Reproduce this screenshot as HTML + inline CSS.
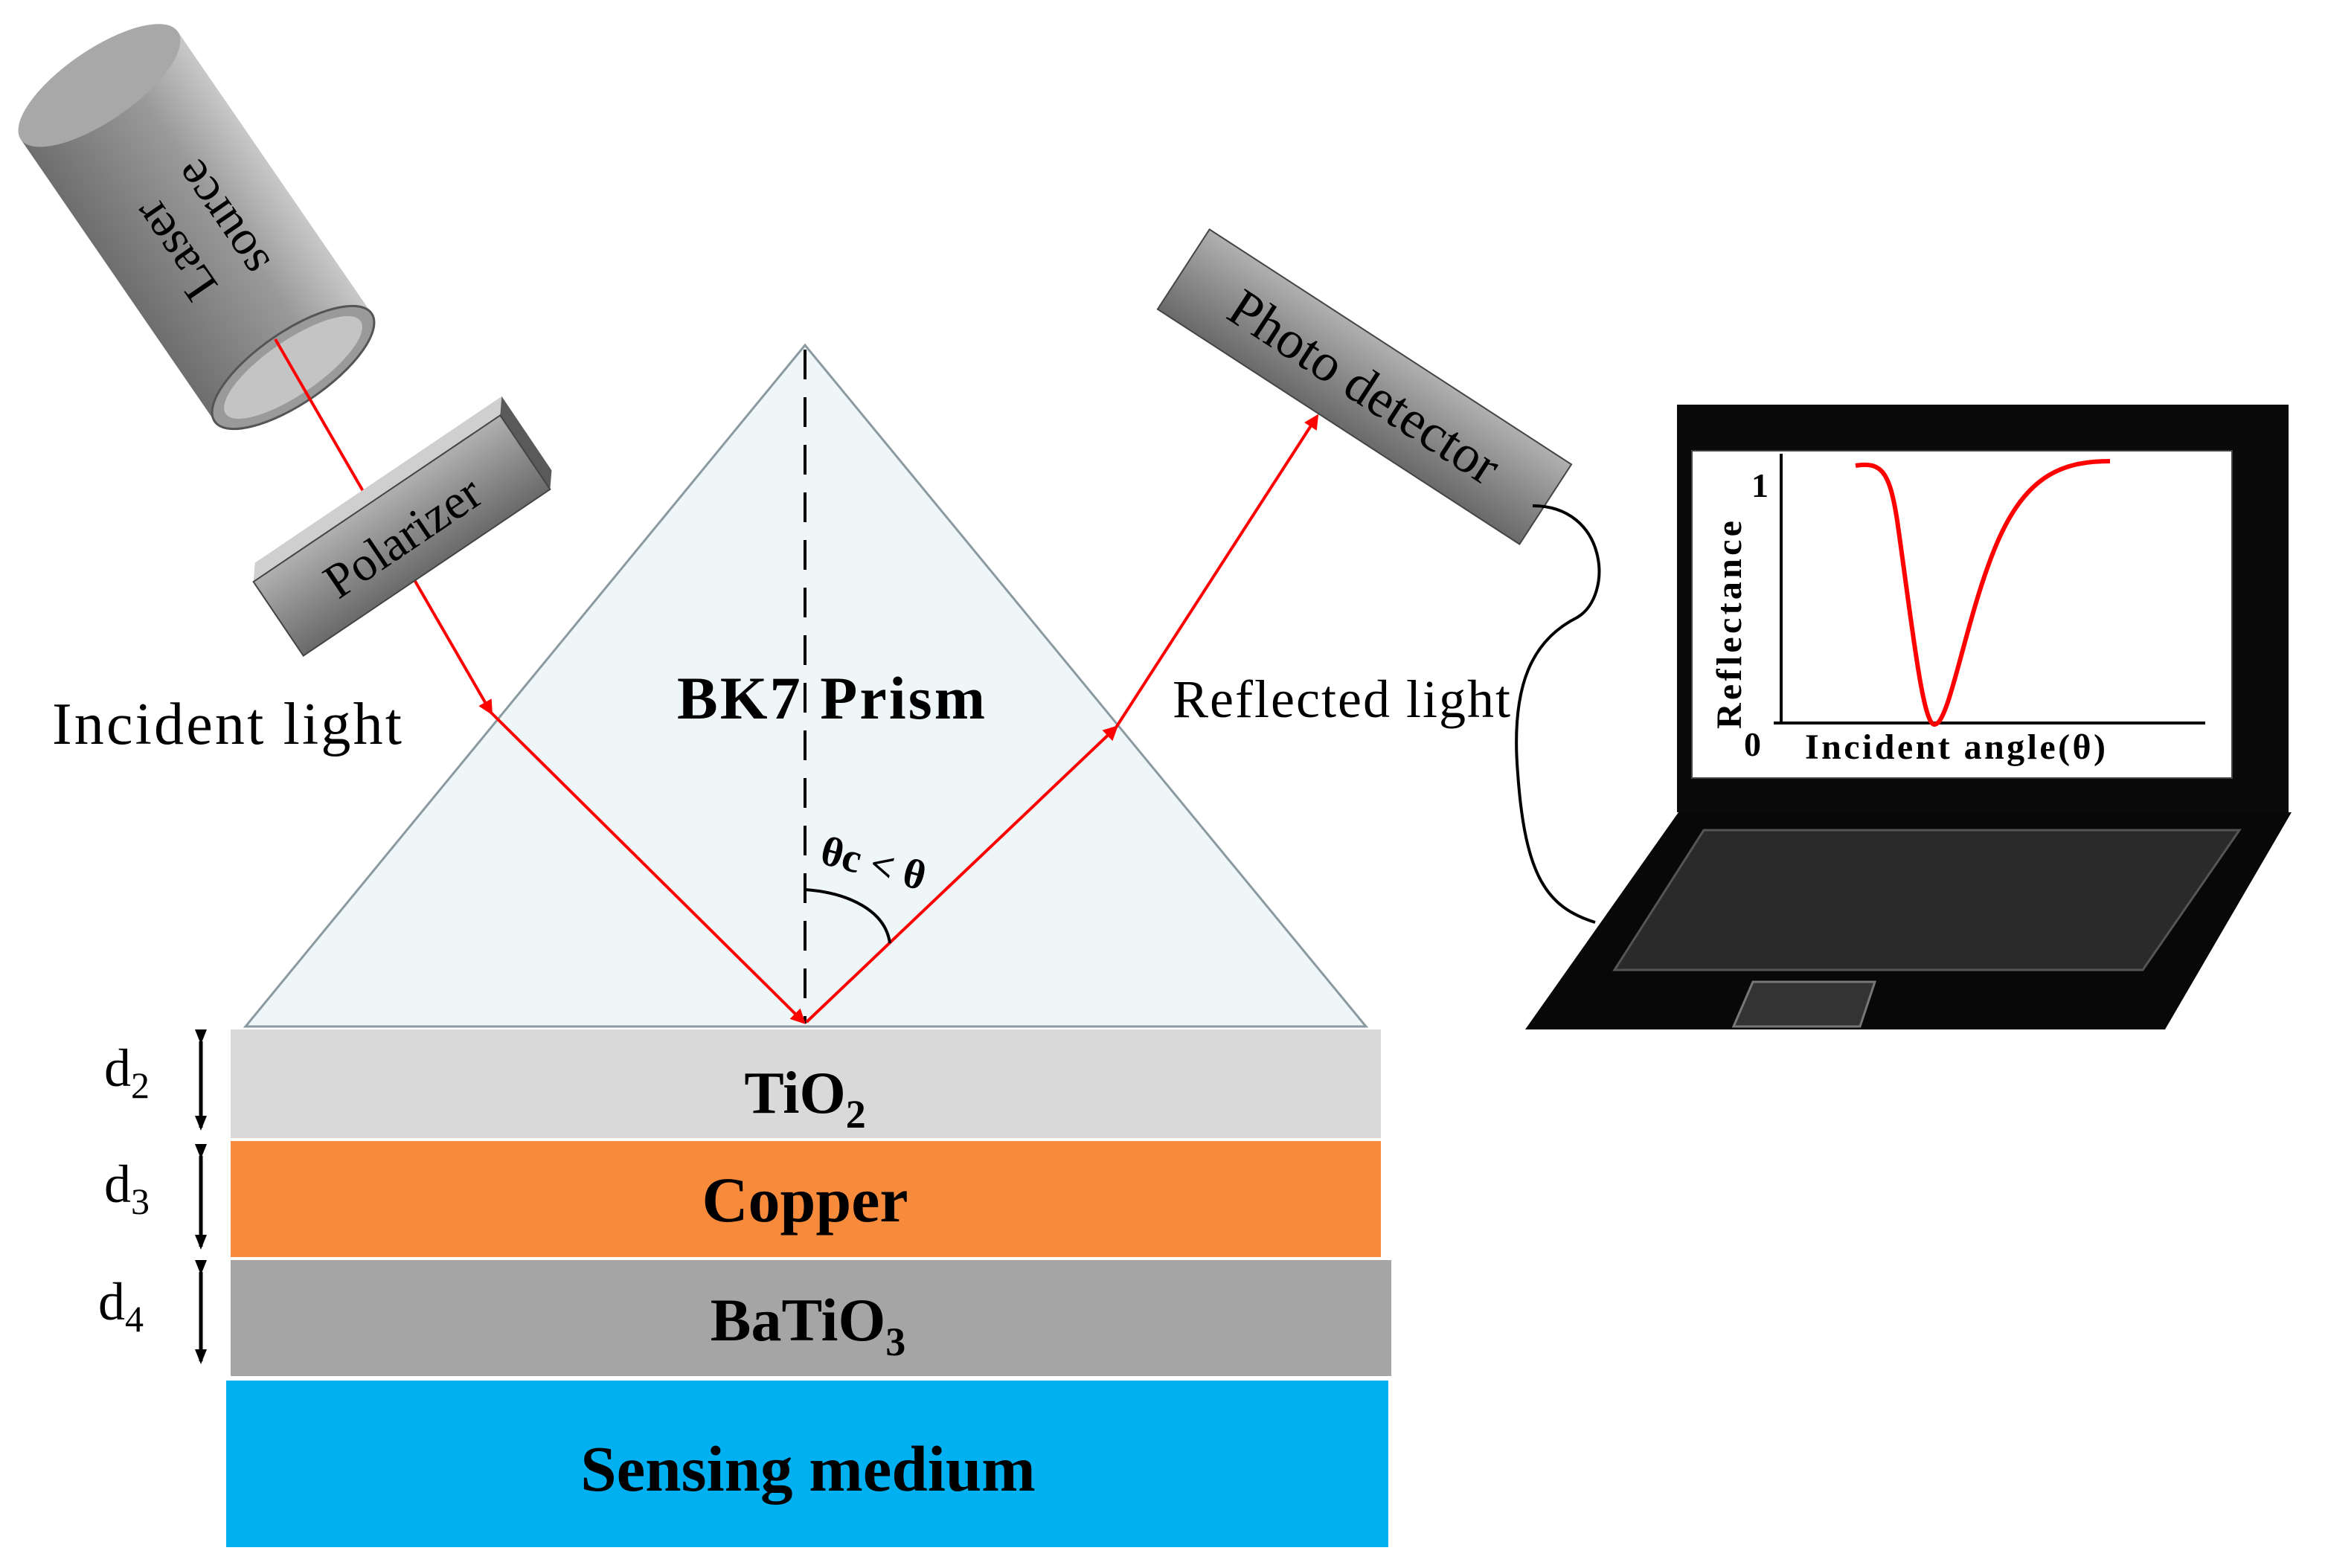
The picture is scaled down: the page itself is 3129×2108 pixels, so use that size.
<!DOCTYPE html>
<html><head><meta charset="utf-8"><style>
html,body{margin:0;padding:0;background:#fff;}
svg{display:block;}
text{font-family:"Liberation Serif",serif;}
</style></head><body>
<svg width="3129" height="2108" viewBox="0 0 1564.5 1054" xmlns="http://www.w3.org/2000/svg">
<defs>
<linearGradient id="cyl" x1="0" y1="0" x2="0" y2="1">
<stop offset="0" stop-color="#c8c8c8"/><stop offset="0.35" stop-color="#9a9a9a"/><stop offset="1" stop-color="#6e6e6e"/></linearGradient>
<linearGradient id="box" x1="0" y1="0" x2="0" y2="1">
<stop offset="0" stop-color="#b0b0b0"/><stop offset="0.5" stop-color="#8c8c8c"/><stop offset="1" stop-color="#6a6a6a"/></linearGradient>
<marker id="ar" markerWidth="10" markerHeight="10" refX="8" refY="5" orient="auto" markerUnits="userSpaceOnUse"><path d="M0,0 L10,5 L0,10 Z" fill="#ff0000"/></marker>
<marker id="bk" markerWidth="10" markerHeight="10" refX="8" refY="5" orient="auto" markerUnits="userSpaceOnUse"><path d="M0,1 L10,5 L0,9 Z" fill="#000"/></marker>
</defs>

<polygon points="541,232 165,690 918,690" fill="#eef6f8" stroke="#8a9aa0" stroke-width="1.5"/>
<line x1="541" y1="235" x2="541" y2="688" stroke="#000" stroke-width="2" stroke-dasharray="20,12"/>

<rect x="155" y="692" width="773" height="73" fill="#d9d9d9"/>
<rect x="155" y="767" width="773" height="78" fill="#f88b3b"/>
<rect x="155" y="847" width="780" height="78" fill="#a5a5a5"/>
<rect x="152" y="928" width="781" height="112" fill="#00b0f0"/>
<text x="541" y="748" font-size="40" font-weight="bold" text-anchor="middle">TiO<tspan font-size="27" dy="10">2</tspan></text>
<text x="541" y="821" font-size="43" font-weight="bold" text-anchor="middle">Copper</text>
<text x="543" y="901" font-size="41" font-weight="bold" text-anchor="middle">BaTiO<tspan font-size="27" dy="10">3</tspan></text>
<text x="543" y="1002" font-size="43.5" font-weight="bold" text-anchor="middle">Sensing medium</text>

<g stroke="#000" stroke-width="2.5">
<line x1="135" y1="700" x2="135" y2="758" marker-start="url(#bk)" marker-end="url(#bk)"/>
<line x1="135" y1="777" x2="135" y2="838" marker-start="url(#bk)" marker-end="url(#bk)"/>
<line x1="135" y1="855" x2="135" y2="915" marker-start="url(#bk)" marker-end="url(#bk)"/>
</g>
<text x="70" y="730" font-size="36">d<tspan font-size="25" dy="8">2</tspan></text>
<text x="70" y="808" font-size="36">d<tspan font-size="25" dy="8">3</tspan></text>
<text x="66" y="887" font-size="36">d<tspan font-size="25" dy="8">4</tspan></text>

<g transform="translate(197,247) rotate(55.5)">
<rect x="-230" y="-64" width="230" height="128" fill="url(#cyl)"/>
<ellipse cx="-230" cy="0" rx="24" ry="64" fill="#a8a8a8"/>
<ellipse cx="0" cy="0" rx="24" ry="64" fill="#9a9a9a" stroke="#555" stroke-width="1.5"/>
<ellipse cx="0" cy="0" rx="18" ry="55" fill="#c4c4c4"/>
<g transform="rotate(180)">
<text x="110" y="-10" font-size="33" text-anchor="middle">Laser</text>
<text x="110" y="28" font-size="33" text-anchor="middle">source</text>
</g>
</g>

<g stroke="#ff0000" stroke-width="2" fill="none">
<line x1="185" y1="228" x2="330" y2="479" marker-end="url(#ar)"/>
<line x1="330" y1="479" x2="540" y2="687" marker-end="url(#ar)"/>
<line x1="542" y1="687" x2="750" y2="489" marker-end="url(#ar)"/>
<line x1="750" y1="489" x2="885" y2="280" marker-end="url(#ar)"/>
</g>

<g transform="translate(270,360) rotate(-34)">
<polygon points="-100,-30 100,-30 108,-40 -92,-40" fill="#cfcfcf"/>
<polygon points="100,-30 108,-40 108,20 100,30" fill="#5a5a5a"/>
<rect x="-100" y="-30" width="200" height="60" fill="url(#box)" stroke="#444" stroke-width="1"/>
<text x="0" y="12" font-size="33" text-anchor="middle">Polarizer</text>
</g>

<g transform="translate(917,260) rotate(33)">
<rect x="-145" y="-32" width="290" height="64" fill="url(#box)" stroke="#444" stroke-width="1"/>
<text x="0" y="12" font-size="36" text-anchor="middle">Photo detector</text>
</g>

<path d="M1030,340 C1080,340 1085,400 1060,415 C1030,430 1015,460 1020,520 C1025,590 1040,610 1072,620" fill="none" stroke="#000" stroke-width="2"/>

<text x="35" y="500" font-size="40" textLength="235">Incident  light</text>
<text x="788" y="482" font-size="36" textLength="227">Reflected light</text>
<text x="455" y="483" font-size="41" font-weight="bold" textLength="207">BK7 Prism</text>
<text x="550" y="580" font-size="28" font-weight="bold" transform="rotate(15 550 580)">θc &lt; θ</text>
<path d="M541,598 C570,600 595,612 598,634" fill="none" stroke="#000" stroke-width="2"/>

<polygon points="1127,272 1538,272 1538,546 1127,546" fill="#0a0a0a"/>
<rect x="1137" y="303" width="363" height="220" fill="#fff" stroke="#444" stroke-width="1"/>
<polygon points="1128,546 1540,546 1455,692 1025,692" fill="#080808"/>
<polygon points="1145,558 1505,558 1440,652 1085,652" fill="#2a2a2a" stroke="#555" stroke-width="1.5"/>
<polygon points="1178,660 1260,660 1250,690 1165,690" fill="#333" stroke="#777" stroke-width="1.5"/>

<line x1="1197" y1="305" x2="1197" y2="486" stroke="#000" stroke-width="2"/>
<line x1="1192" y1="486" x2="1482" y2="486" stroke="#000" stroke-width="2"/>
<text x="1177" y="334" font-size="23" font-weight="bold">1</text>
<text x="1172" y="508" font-size="23" font-weight="bold">0</text>
<text x="1213" y="510" font-size="24" font-weight="bold" textLength="202">Incident angle(θ)</text>
<text font-size="24" font-weight="bold" transform="translate(1170,490) rotate(-90)" textLength="140">Reflectance</text>
<path d="M1247,313 C1265,310 1270,318 1275,350 C1285,420 1292,487 1300,487 C1310,487 1320,420 1340,370 C1360,320 1385,310 1418,310" fill="none" stroke="#ff0000" stroke-width="3"/>
</svg>
</body></html>
